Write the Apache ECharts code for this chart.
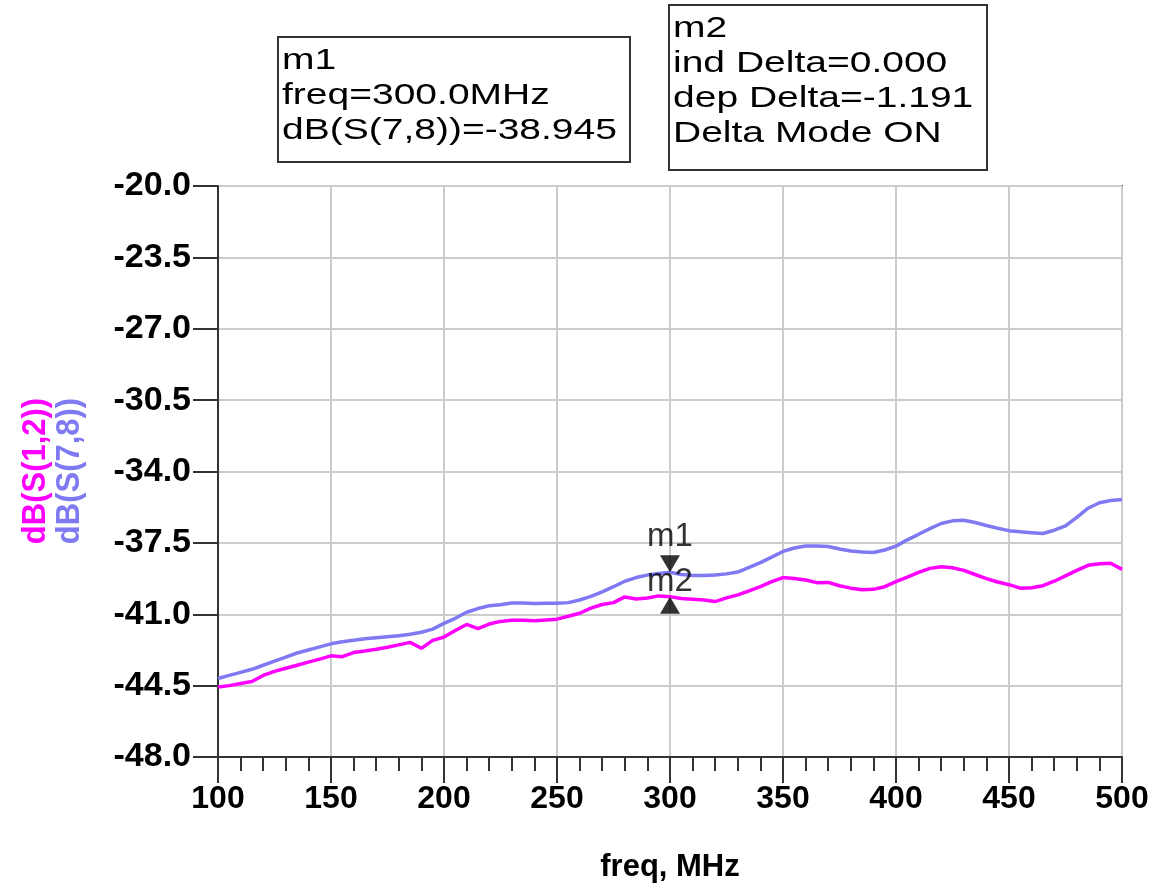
<!DOCTYPE html>
<html>
<head>
<meta charset="utf-8">
<title>dB(S(1,2)) / dB(S(7,8))</title>
<script src="https://cdn.jsdelivr.net/npm/echarts@6/dist/echarts.min.js"></script>
<style>
    html, body { margin: 0; padding: 0; background: #fff; }
    #chart { width: 1160px; height: 888px; }
</style>
</head>
<body>
<div id="chart"></div>
<script>
// frequency points, MHz
var freq = [100, 105, 110, 115, 120, 125, 130, 135, 140, 145,
    150, 155, 160, 165, 170, 175, 180, 185, 190, 195,
    200, 205, 210, 215, 220, 225, 230, 235, 240, 245,
    250, 255, 260, 265, 270, 275, 280, 285, 290, 295,
    300, 305, 310, 315, 320, 325, 330, 335, 340, 345,
    350, 355, 360, 365, 370, 375, 380, 385, 390, 395,
    400, 405, 410, 415, 420, 425, 430, 435, 440, 445,
    450, 455, 460, 465, 470, 475, 480, 485, 490, 495, 500];

// dB(S(1,2)) - magenta
var s12 = [-44.57, -44.5, -44.4, -44.3, -44.0, -43.8, -43.65, -43.5, -43.35, -43.2,
    -43.04, -43.08, -42.88, -42.8, -42.72, -42.62, -42.5, -42.38, -42.67, -42.28,
    -42.12, -41.8, -41.5, -41.7, -41.48, -41.35, -41.3, -41.3, -41.32, -41.28,
    -41.24, -41.1, -40.95, -40.7, -40.52, -40.43, -40.15, -40.25, -40.2, -40.1,
    -40.136, -40.23, -40.26, -40.3, -40.38, -40.2, -40.05, -39.85, -39.65, -39.4,
    -39.2, -39.25, -39.32, -39.45, -39.44, -39.6, -39.72, -39.8, -39.78, -39.65,
    -39.4, -39.18, -38.95, -38.75, -38.67, -38.72, -38.85, -39.05, -39.25, -39.42,
    -39.55, -39.72, -39.7, -39.6, -39.38, -39.12, -38.85, -38.6, -38.52, -38.5, -38.8];

// dB(S(7,8)) - blue
var s78 = [-44.15, -44.0, -43.85, -43.7, -43.5, -43.3, -43.1, -42.9, -42.75, -42.6,
    -42.45, -42.35, -42.28, -42.2, -42.15, -42.1, -42.05, -41.98, -41.88, -41.73,
    -41.45, -41.2, -40.9, -40.72, -40.58, -40.53, -40.45, -40.45, -40.47, -40.46,
    -40.46, -40.43, -40.3, -40.12, -39.9, -39.65, -39.38, -39.2, -39.08, -39.0,
    -38.945, -39.05, -39.1, -39.1, -39.08, -39.02, -38.93, -38.7, -38.47, -38.2,
    -37.92, -37.75, -37.65, -37.65, -37.68, -37.8, -37.9, -37.95, -37.97, -37.85,
    -37.66, -37.35, -37.08, -36.8, -36.55, -36.42, -36.39, -36.5, -36.65, -36.78,
    -36.9, -36.96, -37.0, -37.04, -36.88, -36.67, -36.25, -35.8, -35.53, -35.42, -35.37];

// markers
var m1 = [300, -38.945];
var m2 = [300, -40.136];

var m1Lines = ['m1', 'freq=300.0MHz', 'dB(S(7,8))=-38.945'];
var m2Lines = ['m2', 'ind Delta=0.000', 'dep Delta=-1.191', 'Delta Mode ON'];

var FONT = '"Liberation Sans", Arial, sans-serif';
var MAGENTA = '#ff00ff';
var BLUE = '#7f79f2';

function pairs(xs, ys) {
    var out = [];
    for (var i = 0; i < xs.length; i++) {
        out.push([xs[i], ys[i]]);
    }
    return out;
}

// marker readout box
function markerBox(x, y, w, h, lines) {
    var children = [{
        type: 'rect',
        shape: {x: 0, y: 0, width: w, height: h},
        style: {fill: '#fff', stroke: '#333', lineWidth: 2}
    }];
    for (var i = 0; i < lines.length; i++) {
        children.push({
            type: 'text',
            x: 4,
            y: 24 + i * 35,
            scaleX: 1.3,
            style: {
                text: lines[i],
                font: '30px ' + FONT,
                fill: '#000',
                verticalAlign: 'middle'
            }
        });
    }
    return {type: 'group', x: x, y: y, children: children};
}

var chart = echarts.init(document.getElementById('chart'));

var option = {
    backgroundColor: '#fff',
    animation: false,
    grid: {
        left: 218, right: 38, top: 186, bottom: 130,
        show: true, borderColor: '#444', borderWidth: 2
    },
    xAxis: {
        type: 'value',
        min: 100, max: 500, interval: 50,
        name: 'freq, MHz',
        nameLocation: 'middle',
        nameGap: 95,
        nameTextStyle: {fontSize: 31, fontWeight: 'bold', color: '#000', fontFamily: FONT},
        axisLine: {lineStyle: {color: '#333', width: 2}},
        axisTick: {length: 26, lineStyle: {color: '#333', width: 2}},
        minorTick: {show: true, splitNumber: 5, length: 14, lineStyle: {color: '#333', width: 2}},
        splitLine: {lineStyle: {color: '#cccccc', width: 2}},
        axisLabel: {fontSize: 32, fontWeight: 'bold', color: '#000', fontFamily: FONT, margin: 26}
    },
    yAxis: {
        type: 'value',
        min: -48, max: -20, interval: 3.5,
        axisLine: {show: true, lineStyle: {color: '#333', width: 2}},
        axisTick: {show: true, length: 25, lineStyle: {color: '#333', width: 2}},
        splitLine: {lineStyle: {color: '#cccccc', width: 2}},
        axisLabel: {
            fontSize: 34, fontWeight: 'bold', color: '#000', fontFamily: FONT, margin: 27,
            formatter: function (v) { return v.toFixed(1); }
        }
    },
    graphic: [
        markerBox(278, 37, 352, 125, m1Lines),
        markerBox(669, 5, 318, 165, m2Lines),
        {
            type: 'text', x: 36, y: 471, rotation: Math.PI / 2, scaleY: 1.05,
            style: {text: 'dB(S(1,2))', font: 'bold 31px ' + FONT, fill: MAGENTA,
                align: 'center', verticalAlign: 'middle'}
        },
        {
            type: 'text', x: 70, y: 471, rotation: Math.PI / 2, scaleY: 1.05,
            style: {text: 'dB(S(7,8))', font: 'bold 31px ' + FONT, fill: BLUE,
                align: 'center', verticalAlign: 'middle'}
        }
    ],
    series: [
        {
            name: 'dB(S(7,8))',
            type: 'line',
            data: pairs(freq, s78),
            showSymbol: false,
            lineStyle: {color: BLUE, width: 3.5},
            itemStyle: {color: BLUE},
            z: 3
        },
        {
            name: 'dB(S(1,2))',
            type: 'line',
            data: pairs(freq, s12),
            showSymbol: false,
            lineStyle: {color: MAGENTA, width: 3.5},
            itemStyle: {color: MAGENTA},
            z: 3
        },
        {
            name: 'm1',
            type: 'scatter',
            data: [m1],
            symbol: 'triangle',
            symbolRotate: 180,
            symbolSize: [20, 17],
            symbolOffset: [0, -8.5],
            itemStyle: {color: '#000'},
            label: {show: true, position: 'top', distance: 2, formatter: 'm1',
                fontSize: 33, color: '#000', fontFamily: FONT},
            z: 5
        },
        {
            name: 'm2',
            type: 'scatter',
            data: [m2],
            symbol: 'triangle',
            symbolSize: [20, 17],
            symbolOffset: [0, 8.5],
            itemStyle: {color: '#000'},
            label: {show: true, position: 'top', distance: -2, formatter: 'm2',
                fontSize: 33, color: '#000', fontFamily: FONT},
            z: 5
        }
    ]
};

chart.setOption(option);
</script>
</body>
</html>
